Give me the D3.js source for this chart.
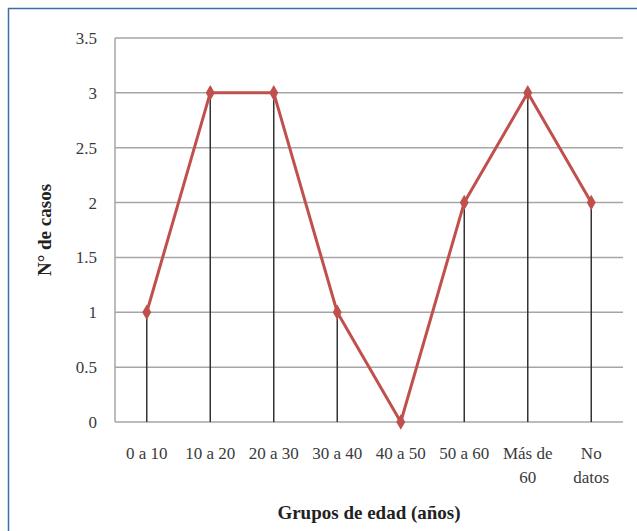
<!DOCTYPE html>
<html>
<head>
<meta charset="utf-8">
<script src="https://cdn.jsdelivr.net/npm/d3@7"></script>
<style>
  body { margin: 0; background: #fff; }
  text { font-family: "Liberation Serif", "DejaVu Serif", serif; }
</style>
</head>
<body>
<div id="chart"></div>
<script>
const categories = ["0 a 10", "10 a 20", "20 a 30", "30 a 40", "40 a 50", "50 a 60", "Más de 60", "No datos"];
const values = [1, 3, 3, 1, 0, 2, 3, 2];
const yTicks = [0, 0.5, 1, 1.5, 2, 2.5, 3, 3.5];

const width = 637, height = 531;
const plot = { left: 115, right: 623, top: 38, bottom: 422 };

const svg = d3.select("#chart")
    .append("svg")
    .attr("width", width)
    .attr("height", height);

// outer frame
svg.append("rect")
    .attr("x", 8.5)
    .attr("y", 8.5)
    .attr("width", 660)
    .attr("height", 560)
    .attr("fill", "none")
    .attr("stroke", "#3a6ea5")
    .attr("stroke-width", 1.5);

const x = d3.scaleBand()
    .domain(categories)
    .range([plot.left, plot.right]);

const y = d3.scaleLinear()
    .domain([0, 3.5])
    .range([plot.bottom, plot.top]);

const cx = d => x(d) + x.bandwidth() / 2;

// horizontal gridlines
svg.append("g")
    .selectAll("line")
    .data(yTicks)
    .join("line")
    .attr("x1", plot.left)
    .attr("x2", plot.right)
    .attr("y1", d => y(d))
    .attr("y2", d => y(d))
    .attr("stroke", "#a6a6a6")
    .attr("stroke-width", 1.5);

// value axis line
svg.append("line")
    .attr("x1", plot.left).attr("x2", plot.left)
    .attr("y1", y(3.5)).attr("y2", y(0))
    .attr("stroke", "#a6a6a6")
    .attr("stroke-width", 1.5);

// y tick labels
svg.append("g")
    .selectAll("text")
    .data(yTicks)
    .join("text")
    .attr("x", 97)
    .attr("y", d => y(d) + 6)
    .attr("text-anchor", "end")
    .style("font-size", "17px")
    .style("fill", "#3a3a3a")
    .text(d => d);

// drop lines
svg.append("g")
    .selectAll("line")
    .data(categories)
    .join("line")
    .attr("x1", d => cx(d))
    .attr("x2", d => cx(d))
    .attr("y1", (d, i) => y(values[i]))
    .attr("y2", y(0))
    .attr("stroke", "#333")
    .attr("stroke-width", 1.5);

// series line
svg.append("path")
    .datum(values)
    .attr("fill", "none")
    .attr("stroke", "#c0504d")
    .attr("stroke-width", 3)
    .attr("stroke-linejoin", "round")
    .attr("d", d3.line()
        .x((d, i) => cx(categories[i]))
        .y(d => y(d)));

// diamond markers
svg.append("g")
    .selectAll("path")
    .data(values)
    .join("path")
    .attr("transform", (d, i) => `translate(${cx(categories[i])}, ${y(d)})`)
    .attr("d", d3.symbol().type(d3.symbolDiamond).size(70))
    .attr("fill", "#c0504d");

// x tick labels, the long ones go on two lines
const xLabels = svg.append("g");
categories.forEach(c => {
    let lines = [c];
    if (c == "Más de 60") lines = ["Más de", "60"];
    if (c == "No datos") lines = ["No", "datos"];
    lines.forEach((t, j) => {
        xLabels.append("text")
            .attr("x", cx(c))
            .attr("y", 459 + j * 24)
            .attr("text-anchor", "middle")
            .style("font-size", "17px")
            .style("fill", "#3a3a3a")
            .text(t);
    });
});

// axis titles
svg.append("text")
    .attr("x", (plot.left + plot.right) / 2)
    .attr("y", 519)
    .attr("text-anchor", "middle")
    .style("font-size", "19px")
    .style("font-weight", "bold")
    .style("fill", "#222")
    .text("Grupos de edad (años)");

svg.append("text")
    .attr("transform", `translate(51, ${(plot.top + plot.bottom) / 2}) rotate(-90)`)
    .attr("text-anchor", "middle")
    .style("font-size", "19px")
    .style("font-weight", "bold")
    .style("fill", "#222")
    .text("N° de casos");
</script>
</body>
</html>
